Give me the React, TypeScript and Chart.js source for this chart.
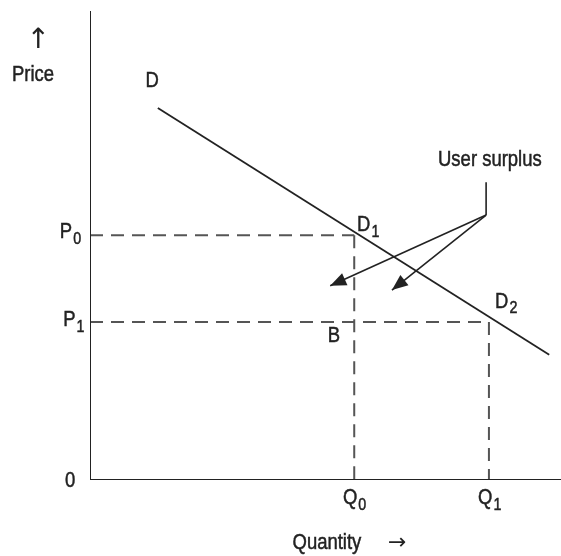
import React, { useEffect, useRef } from "react";
import { Chart, registerables } from "chart.js";

Chart.register(...registerables);

// Axis extents (data units)
const axisMax = [100, 100];
// Demand curve D: start and end points [x, y]
const demandX = [14.4, 97.5];
const demandY = [79.3, 26.7];
// Quantities and prices
const quantities = [56.1, 84.7]; // Q0, Q1
const prices = [52.2, 33.7]; // P0, P1
// "User surplus" pointer: connector top, joint, arrow tips
const connectorX = [84.1, 84.1];
const connectorY = [63.5, 56.5];
const arrowTipX = [51.0, 64.1];
const arrowTipY = [41.4, 40.5];

// Text labels
const labelText = ["Price", "D", "User surplus", "D", "D", "B", "Q", "Q", "P", "P", "0", "Quantity"];
const labelSub = ["", "", "", "1", "2", "", "0", "1", "0", "1", "", ""];
const labelX = [-12.1, 13.2, 84.9, 56.7, 86.0, 51.8, 53.7, 82.4, -6.4, -5.7, -4.2, 50.3];
const labelY = [86.4, 85.1, 68.2, 54.4, 38.0, 30.7, -3.8, -3.8, 52.9, 34.1, -0.2, -13.4];
const labelAlign = ["center", "center", "center", "left", "left", "center", "left", "left", "left", "left", "center", "center"];
// Axis direction arrows (glyphs)
const arrowGlyph = ["↑", "→"];
const arrowGlyphX = [-11.0, 65.2];
const arrowGlyphY = [93.6, -13.4];

const FONT = "'Liberation Sans', Arial, sans-serif";
const ARROW_FONT = "'DejaVu Sans', sans-serif";
const SQUEEZE = 0.84;
const INK = "#222";
const DASH = "#555";

function drawText(ctx: CanvasRenderingContext2D, text: string, x: number, y: number, align: string, size: number) {
  ctx.font = `${size}px ${FONT}`;
  const w = ctx.measureText(text).width * SQUEEZE;
  let left = x;
  if (align === "center") left = x - w / 2;
  ctx.save();
  ctx.translate(left, y);
  ctx.scale(SQUEEZE, 1);
  ctx.textAlign = "left";
  ctx.textBaseline = "middle";
  ctx.fillText(text, 0, 0);
  ctx.lineWidth = 0.5;
  ctx.strokeStyle = INK;
  ctx.strokeText(text, 0, 0);
  ctx.restore();
  return w;
}

const overlayPlugin = {
  id: "overlay",
  afterDatasetsDraw(chart: any) {
    const { ctx } = chart;
    const xs = chart.scales.x;
    const ys = chart.scales.y;
    ctx.save();
    // arrowheads
    for (let i = 0; i < arrowTipX.length; i++) {
      const tx = xs.getPixelForValue(arrowTipX[i]);
      const ty = ys.getPixelForValue(arrowTipY[i]);
      const fx = xs.getPixelForValue(connectorX[1]);
      const fy = ys.getPixelForValue(connectorY[1]);
      const ang = Math.atan2(ty - fy, tx - fx);
      const len = 16;
      const half = 6.5;
      const bx = tx - len * Math.cos(ang);
      const by = ty - len * Math.sin(ang);
      ctx.beginPath();
      ctx.moveTo(tx, ty);
      ctx.lineTo(bx + half * Math.sin(ang), by - half * Math.cos(ang));
      ctx.lineTo(bx - half * Math.sin(ang), by + half * Math.cos(ang));
      ctx.closePath();
      ctx.fillStyle = INK;
      ctx.fill();
    }
    // labels
    ctx.fillStyle = INK;
    for (let i = 0; i < labelText.length; i++) {
      const px = xs.getPixelForValue(labelX[i]);
      const py = ys.getPixelForValue(labelY[i]);
      const w = drawText(ctx, labelText[i], px, py, labelAlign[i], 22);
      if (labelSub[i]) {
        drawText(ctx, labelSub[i], px + w + 1, py + 7, "left", 17);
      }
    }
    // axis arrows
    ctx.textAlign = "center";
    ctx.textBaseline = "middle";
    for (let i = 0; i < arrowGlyph.length; i++) {
      ctx.font = `${i === 0 ? 28 : 22}px ${ARROW_FONT}`;
      ctx.fillText(arrowGlyph[i], xs.getPixelForValue(arrowGlyphX[i]), ys.getPixelForValue(arrowGlyphY[i]));
    }
    ctx.restore();
  },
};

export default function App() {
  const ref = useRef<HTMLCanvasElement>(null);
  useEffect(() => {
    document.body.style.margin = "0";
    const solid = (data: any[], width = 1.8) => ({
      data,
      showLine: true,
      borderColor: INK,
      borderWidth: width,
      pointRadius: 0,
      fill: false,
    });
    const dashed = (data: any[]) => ({
      data,
      showLine: true,
      borderColor: DASH,
      borderWidth: 2,
      borderDash: [13, 8],
      pointRadius: 0,
      fill: false,
    });
    const datasets: any[] = [
      // axes
      solid([{ x: 0, y: axisMax[1] }, { x: 0, y: 0 }, { x: axisMax[0], y: 0 }], 2),
      // demand
      solid([{ x: demandX[0], y: demandY[0] }, { x: demandX[1], y: demandY[1] }], 1.8),
    ];
    for (let i = 0; i < quantities.length; i++) {
      datasets.push(dashed([{ x: 0, y: prices[i] }, { x: quantities[i], y: prices[i] }]));
      datasets.push(dashed([{ x: quantities[i], y: prices[i] }, { x: quantities[i], y: 0 }]));
    }
    datasets.push(solid([{ x: connectorX[0], y: connectorY[0] }, { x: connectorX[1], y: connectorY[1] }], 1.6));
    for (let i = 0; i < arrowTipX.length; i++) {
      datasets.push(solid([{ x: connectorX[1], y: connectorY[1] }, { x: arrowTipX[i], y: arrowTipY[i] }], 1.6));
    }
    const chart = new Chart(ref.current!, {
      type: "scatter",
      data: { datasets },
      options: {
        animation: false,
        responsive: false,
        maintainAspectRatio: false,
        layout: { padding: { left: 90, right: 0, top: 11, bottom: 76 } },
        plugins: { legend: { display: false }, tooltip: { enabled: false } },
        scales: {
          x: { type: "linear", min: 0, max: axisMax[0], display: false },
          y: { type: "linear", min: 0, max: axisMax[1], display: false },
        },
        elements: { line: { borderCapStyle: "butt" } },
      },
      plugins: [overlayPlugin],
    });
    return () => chart.destroy();
  }, []);
  return (
    <div style={{ position: "absolute", left: 0, top: 0, width: 561, height: 556, background: "#fff" }}>
      <canvas ref={ref} width={561} height={556} style={{ width: 561, height: 556, display: "block" }} />
    </div>
  );
}
